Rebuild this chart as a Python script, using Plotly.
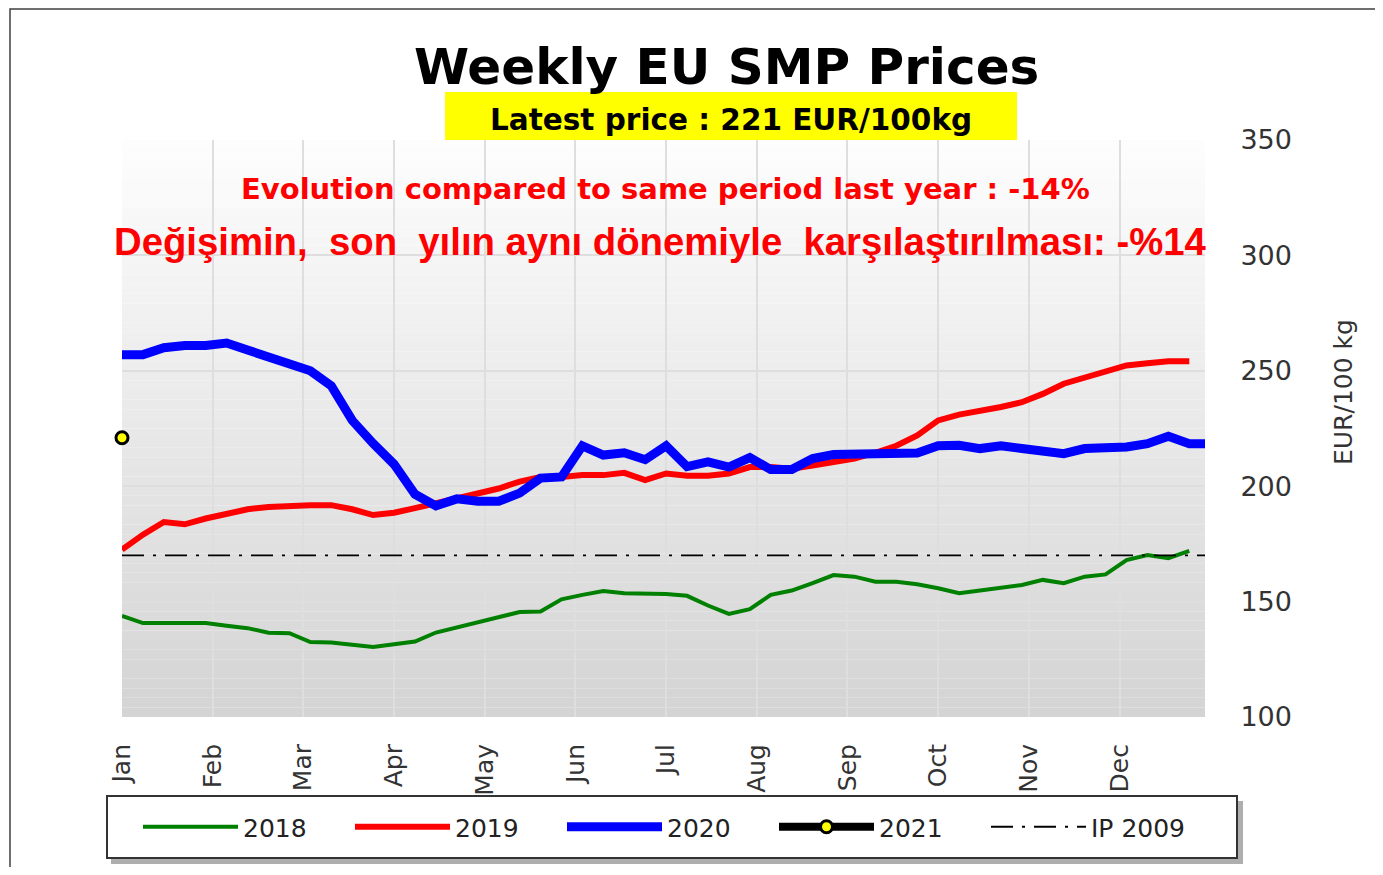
import plotly.graph_objects as go

# ---------------- data ----------------
months = ["Jan", "Feb", "Mar", "Apr", "May", "Jun", "Jul", "Aug", "Sep", "Oct", "Nov", "Dec"]
weeks_per_year = 52

smp_2018 = [143.8, 140.7, 140.7, 140.7, 140.7, 139.5, 138.5, 136.5, 136.3, 132.5,
            132.3, 131.3, 130.3, 131.5, 132.7, 136.6, 138.8, 141.0, 143.5, 145.5,
            145.7, 151.0, 152.9, 154.6, 153.6, 153.6, 153.3, 152.5, 148.3, 144.7,
            146.7, 152.9, 154.8, 158.0, 161.5, 160.8, 158.6, 158.6, 157.5, 155.8,
            153.6, 154.8, 155.8, 157.2, 159.4, 158.0, 160.8, 161.8, 168.0, 170.2,
            168.8, 172.0]

smp_2019 = [172.5, 179.0, 184.5, 183.5, 186.0, 188.0, 190.0, 191.0, 191.5, 191.8,
            191.8, 190.0, 187.5, 188.5, 190.5, 192.5, 194.5, 196.5, 199.0, 202.0,
            204.0, 204.0, 204.8, 204.8, 205.8, 202.6, 205.5, 204.5, 204.5, 205.5,
            208.3, 208.3, 207.6, 209.0, 210.5, 212.0, 214.5, 217.5, 222.0, 228.5,
            231.0, 232.4, 234.3, 236.4, 240.0, 244.4, 247.2, 249.4, 252.3, 253.3,
            254.1, 254.1]

smp_2020 = [257.0, 257.0, 260.0, 261.0, 261.0, 262.0, 259.0, 256.0, 254.0, 250.0,
            243.5, 228.5, 218.5, 209.5, 196.5, 191.5, 194.5, 193.5, 193.5, 197.0,
            203.5, 204.0, 217.5, 213.5, 214.5, 211.5, 217.5, 208.5, 210.5, 208.3,
            212.4, 207.2, 207.2, 212.0, 213.7, 213.7, 214.4, 214.4, 214.4, 217.5,
            217.7, 216.3, 217.5, 216.3, 215.3, 214.1, 216.3, 216.3, 217.0, 218.4,
            221.6, 218.4, 218.4]

smp_2021 = [221.0]

ip_2009 = 170.0

y_ticks = [100, 150, 200, 250, 300, 350]

# ---------------- geometry (page pixels; page body has an 8px margin) ----------------
OFF = 8
W, H = 1383 - 2 * OFF, 875 - 2 * OFF
PLOT_L, PLOT_R, PLOT_T, PLOT_B = 122, 1205, 140, 717
ML, MT = PLOT_L - OFF, PLOT_T - OFF
MR, MB = OFF + W - PLOT_R, OFF + H - PLOT_B
PW, PH = PLOT_R - PLOT_L, PLOT_B - PLOT_T


def px_x(px):
    return (px - PLOT_L) / PW


def px_y(py):
    return (PLOT_B - py) / PH


fig = go.Figure()

weeks_2018 = list(range(len(smp_2018)))
weeks_2019 = list(range(len(smp_2019)))
weeks_2020 = list(range(len(smp_2020)))
weeks_2021 = list(range(len(smp_2021)))

fig.add_trace(go.Scatter(x=weeks_2018, y=smp_2018, mode="lines", name="2018",
                         line=dict(color="#008000", width=4)))
fig.add_trace(go.Scatter(x=weeks_2019, y=smp_2019, mode="lines", name="2019",
                         line=dict(color="#ff0000", width=6)))
fig.add_trace(go.Scatter(x=weeks_2020, y=smp_2020, mode="lines", name="2020",
                         line=dict(color="#0000ff", width=9)))
fig.add_trace(go.Scatter(x=weeks_2021, y=smp_2021, mode="lines+markers", name="2021",
                         cliponaxis=False,
                         line=dict(color="#000000", width=8),
                         marker=dict(color="#ffff00", size=12,
                                     line=dict(color="#000000", width=3))))
fig.add_trace(go.Scatter(x=[weeks_2020[0], weeks_2020[-1]], y=[ip_2009, ip_2009],
                         mode="lines", name="IP 2009",
                         line=dict(color="#000000", width=1.8, dash="22px,9px,3px,9px")))

# ---------------- decorations ----------------
shapes = []
n_strips = 60
for i in range(n_strips):
    t = i / (n_strips - 1)
    c = int(round(253 - (253 - 212) * t))
    shapes.append(dict(type="rect", xref="x domain", yref="y domain",
                       x0=0, x1=1, y0=1 - (i + 1) / n_strips, y1=1 - i / n_strips,
                       fillcolor=f"rgb({c},{c},{c})", line=dict(width=0), layer="below"))

# outer frame
shapes.append(dict(type="rect", xref="paper", yref="paper",
                   x0=px_x(10), x1=px_x(1400), y0=px_y(900), y1=px_y(9),
                   line=dict(color="#404040", width=1.5), fillcolor="rgba(0,0,0,0)", layer="below"))

# yellow box behind latest price
shapes.append(dict(type="rect", xref="paper", yref="paper",
                   x0=px_x(445), x1=px_x(1017), y0=px_y(140), y1=px_y(92),
                   fillcolor="#ffff00", line=dict(width=0), layer="below"))

# legend shadow + box
shapes.append(dict(type="rect", xref="paper", yref="paper",
                   x0=px_x(111), x1=px_x(1243), y0=px_y(864), y1=px_y(801),
                   fillcolor="rgba(120,120,120,0.6)", line=dict(width=0), layer="below"))
shapes.append(dict(type="rect", xref="paper", yref="paper",
                   x0=px_x(107), x1=px_x(1237), y0=px_y(858), y1=px_y(796),
                   fillcolor="#ffffff", line=dict(color="#333333", width=2), layer="below"))

fig.update_layout(shapes=shapes)

annotations = [
    dict(text="<b>Weekly EU SMP Prices</b>", x=px_x(726), y=px_y(67),
         font=dict(family="DejaVu Sans", size=50, color="#000000")),
    dict(text="<b>Latest price : 221 EUR/100kg</b>", x=px_x(731), y=px_y(120),
         font=dict(family="DejaVu Sans", size=29.5, color="#000000")),
    dict(text="<b>Evolution compared to same period last year : -14%</b>", x=px_x(665), y=px_y(189),
         font=dict(family="DejaVu Sans", size=29, color="#ff0000")),
    dict(text="<b>Değişimin,\u00a0 son\u00a0 yılın aynı dönemiyle\u00a0 karşılaştırılması: -%14</b>",
         x=px_x(660), y=px_y(242),
         font=dict(family="Liberation Sans", size=38.3, color="#ff0000")),
    dict(text="EUR/100 kg", x=px_x(1343), y=px_y(392), textangle=-90,
         font=dict(family="DejaVu Sans", size=25, color="#333333")),
]
for a in annotations:
    a.update(xref="paper", yref="paper", showarrow=False, xanchor="center", yanchor="middle")
fig.update_layout(annotations=annotations)

fig.update_layout(
    width=W, height=H,
    margin=dict(l=ML, r=MR, t=MT, b=MB, pad=0),
    paper_bgcolor="#ffffff",
    plot_bgcolor="rgba(0,0,0,0)",
    font=dict(family="DejaVu Sans", color="#333333"),
    showlegend=True,
    legend=dict(orientation="h", x=px_x(138), xanchor="left", y=px_y(827), yanchor="middle",
                bgcolor="rgba(0,0,0,0)", borderwidth=0,
                font=dict(family="DejaVu Sans", size=25, color="#222222"),
                entrywidth=102, entrywidthmode="pixels", itemwidth=95, tracegroupgap=0),
    xaxis=dict(range=[0, 51.75], tickmode="array",
               tickvals=[i * weeks_per_year / 12 for i in range(12)], ticktext=months,
               tickangle=-90, tickfont=dict(family="DejaVu Sans", size=25, color="#333333"),
               ticks="outside", ticklen=16, tickcolor="rgba(0,0,0,0)",
               showgrid=True, gridcolor="#dedede", gridwidth=1.5,
               zeroline=False, showline=False, fixedrange=True),
    yaxis=dict(range=[100, 350], side="right", tickmode="array", tickvals=y_ticks,
               tickfont=dict(family="DejaVu Sans", size=27, color="#333333"),
               ticks="outside", ticklen=29, tickcolor="rgba(0,0,0,0)",
               showgrid=True, gridcolor="#dedede", gridwidth=1.5,
               zeroline=False, showline=False),
)

fig.write_html("out.html")
